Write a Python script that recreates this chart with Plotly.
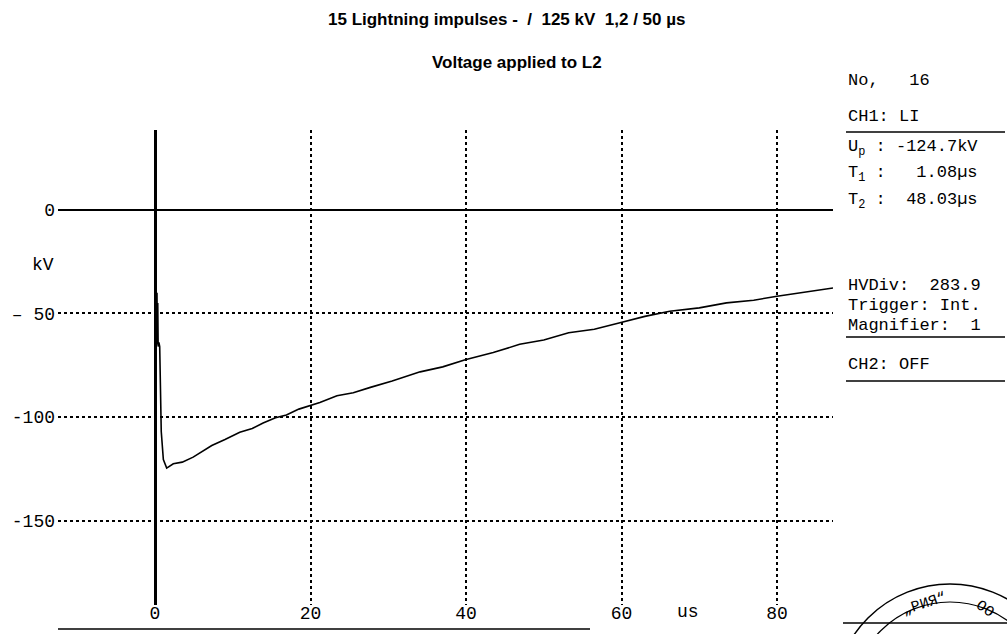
import plotly.graph_objects as go

# ---- data ----
t_us = [-12.5, 0.0, 0.1, 0.2, 0.25, 0.3, 0.35, 0.4, 0.5, 0.6, 0.7, 0.8, 1.07, 1.5,
        2.35, 3.5, 4.9, 6.0, 7.3, 9.0, 10.9, 12.5, 13.9, 15.5, 16.9, 18.5, 19.8,
        21.2, 23.4, 25.5, 27.7, 30.5, 34.1, 37.0, 39.9, 43.5, 46.9, 50.0,
        53.2, 56.5, 59.8, 63.0, 66.2, 70.0, 73.5, 77.0, 80.0, 83.5, 87.2]
u_kv = [0.0, 0.0, -36, -62, -40, -65, -45, -66, -64, -66, -85, -107, -120.6, -124.7,
        -122.6, -121.8, -119.4, -117.0, -113.8, -110.9, -107.4, -105.6, -102.9, -100.4,
        -99.0, -96.2, -94.6, -93.0, -89.7, -88.3, -85.7, -82.6, -78.2, -75.8, -72.4,
        -68.9, -64.9, -62.8, -59.3, -57.6, -54.5, -51.4, -48.9, -47.3, -44.9, -43.6,
        -41.7, -39.8, -37.7]

x_ticks = [0, 20, 40, 60, 80]
x_ticktext = ["0", "20", "40", "60", "80"]
y_ticks = [0, -50, -100, -150]
y_ticktext = ["0", "– 50", "-100", "-150"]

title1 = "15 Lightning impulses -  /  125 kV  1,2 / 50 µs"
title2 = "Voltage applied to L2"
panel_rows = [
    ("No,   16", 80),
    ("CH1: LI", 117),
    ("U<sub>p</sub> : -124.7kV", 148),
    ("T<sub>1</sub> :   1.08µs", 174),
    ("T<sub>2</sub> :  48.03µs", 201),
    ("HVDiv:  283.9", 285),
    ("Trigger: Int.", 305),
    ("Magnifier:  1", 325),
    ("CH2: OFF", 364),
]
panel_rules = [132, 337, 381]

W, H = 1007, 634
MONO = "Liberation Mono, DejaVu Sans Mono, monospace"
SANS = "Liberation Sans, Arial, sans-serif"


def px(x):
    return x / W


def py(y):
    return 1 - y / H


fig = go.Figure()
fig.add_trace(go.Scatter(x=t_us, y=u_kv, mode="lines",
                         line=dict(color="black", width=1.6), showlegend=False,
                         hoverinfo="skip"))

fig.update_layout(
    width=W, height=H, margin=dict(l=0, r=0, t=0, b=0),
    paper_bgcolor="white", plot_bgcolor="white",
    font=dict(family=MONO, size=18, color="black"),
    xaxis=dict(domain=[px(58), px(833)], range=[-12.48, 87.2],
               tickvals=x_ticks, ticktext=x_ticktext, ticks="",
               showgrid=True, gridcolor="black", griddash="dot", gridwidth=1.5,
               zeroline=True, zerolinecolor="black", zerolinewidth=3,
               showline=False, ticklabelstandoff=-5,
               tickfont=dict(family=MONO, size=18)),
    yaxis=dict(domain=[py(605), py(130)], range=[-190.8, 38.6],
               tickvals=y_ticks, ticktext=y_ticktext, ticks="",
               showgrid=True, gridcolor="black", griddash="dot", gridwidth=1.5,
               zeroline=True, zerolinecolor="black", zerolinewidth=1.8,
               showline=False, ticklabelstandoff=2,
               tickfont=dict(family=MONO, size=18)),
)

ann = []


def add_text(text, x, y, size, family=MONO, xanchor="center", weight="normal", angle=0):
    ann.append(dict(text=text, x=px(x), y=py(y), xref="paper", yref="paper",
                    xanchor=xanchor, yanchor="middle", showarrow=False,
                    textangle=angle,
                    font=dict(family=family, size=size, weight=weight)))


add_text(title1, 506, 19, 17, SANS, weight="bold")
add_text(title2, 517, 62, 17, SANS, weight="bold")
add_text("kV", 43, 265, 18)
add_text("us", 688, 612, 18)
for txt, yy in panel_rows:
    add_text(txt, 846, yy, 17, xanchor="left")
# stamp text
add_text("„РИЯ“", 924, 604, 15, angle=-18)
add_text("ОО", 985, 609, 15, angle=35)
fig.update_layout(annotations=ann)

shapes = []
for yy in panel_rules:
    shapes.append(dict(type="line", xref="paper", yref="paper",
                       x0=px(846), x1=px(1005), y0=py(yy), y1=py(yy),
                       line=dict(color="black", width=1.5)))
# bottom rule
shapes.append(dict(type="line", xref="paper", yref="paper", x0=px(58), x1=px(590),
                   y0=py(629), y1=py(629), line=dict(color="black", width=1.5)))
# stamp
shapes.append(dict(type="circle", xref="paper", yref="paper",
                   x0=px(834), x1=px(1066), y0=py(816), y1=py(584),
                   line=dict(color="black", width=1.5)))
shapes.append(dict(type="circle", xref="paper", yref="paper",
                   x0=px(852), x1=px(1048), y0=py(798), y1=py(602),
                   line=dict(color="black", width=1.2)))
shapes.append(dict(type="line", xref="paper", yref="paper", x0=px(843), x1=px(1007),
                   y0=py(623), y1=py(623), line=dict(color="black", width=1.5)))
fig.update_layout(shapes=shapes)

fig.write_html("out.html")
